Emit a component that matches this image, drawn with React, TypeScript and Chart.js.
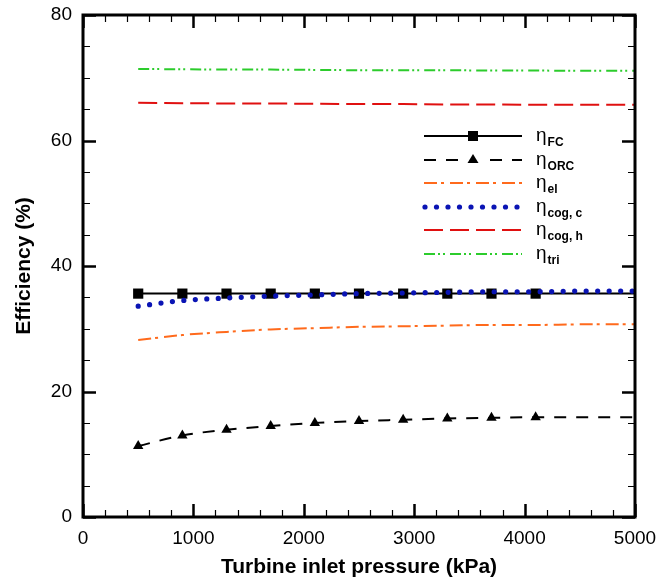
import React, { useEffect, useRef } from "react";
import { Chart, registerables } from "chart.js";

Chart.register(...registerables);

// ---------- data ----------
const markerX = [500, 900, 1300, 1700, 2100, 2500, 2900, 3300, 3700, 4100];
const lineX = [500, 900, 1300, 1700, 2100, 2500, 2900, 3300, 3700, 4100, 4500, 5000];

const etaFC = [35.6, 35.6, 35.6, 35.6, 35.6, 35.6, 35.6, 35.6, 35.6, 35.6, 35.6, 35.6];
const etaORC = [11.3, 13.0, 13.9, 14.5, 15.0, 15.3, 15.5, 15.7, 15.8, 15.9, 15.9, 15.9];
const etaEl = [28.2, 29.0, 29.5, 29.9, 30.1, 30.3, 30.4, 30.5, 30.6, 30.6, 30.7, 30.7];
const etaCogC = [33.6, 34.5, 34.9, 35.2, 35.4, 35.6, 35.7, 35.8, 35.9, 35.9, 36.0, 36.0];
const etaCogH = [66.0, 65.95, 65.9, 65.9, 65.85, 65.8, 65.8, 65.75, 65.75, 65.7, 65.7, 65.7];
const etaTri = [71.4, 71.35, 71.3, 71.3, 71.25, 71.2, 71.2, 71.2, 71.15, 71.15, 71.1, 71.1];

const xTickValues = [0, 1000, 2000, 3000, 4000, 5000];
const yTickValues = [0, 20, 40, 60, 80];
const xMinorStep = 200;
const yMinorStep = 5;

const legendSubs = ["FC", "ORC", "el", "cog, c", "cog, h", "tri"];

const ORANGE = "#ff6a1c";
const BLUE = "#0a14b4";
const RED = "#e01010";
const GREEN = "#2ccc2c";

const FONT = "'Liberation Sans', Arial, Helvetica, sans-serif";

const pts = (ys: number[]) => lineX.map((x, i) => ({ x, y: ys[i] }));
const markerRadius = (r: number) => (ctx: any) => (ctx.dataIndex < markerX.length ? r : 0);

const frameTicks = {
  id: "frameTicks",
  afterDraw(chart: any) {
    const { ctx, chartArea } = chart;
    const { left, right, top, bottom } = chartArea;
    const xs = chart.scales.x;
    const ys = chart.scales.y;
    ctx.save();
    ctx.strokeStyle = "#000";
    ctx.lineCap = "butt";
    const xMax = xTickValues[xTickValues.length - 1];
    for (let v = xTickValues[0]; v <= xMax; v += xMinorStep) {
      const major = xTickValues.includes(v);
      const px = Math.round(xs.getPixelForValue(v)) + 0.5;
      const len = major ? 13 : 7;
      ctx.lineWidth = major ? 2.5 : 1.2;
      ctx.beginPath();
      ctx.moveTo(px, bottom);
      ctx.lineTo(px, bottom - len);
      ctx.moveTo(px, top);
      ctx.lineTo(px, top + len);
      ctx.stroke();
    }
    const yMax = yTickValues[yTickValues.length - 1];
    for (let v = yTickValues[0]; v <= yMax; v += yMinorStep) {
      const major = yTickValues.includes(v);
      const py = Math.round(ys.getPixelForValue(v)) + 0.5;
      const len = major ? 13 : 7;
      ctx.lineWidth = major ? 2.5 : 1.2;
      ctx.beginPath();
      ctx.moveTo(left, py);
      ctx.lineTo(left + len, py);
      ctx.moveTo(right, py);
      ctx.lineTo(right - len, py);
      ctx.stroke();
    }
    ctx.lineWidth = 3;
    ctx.strokeRect(left, top, right - left, bottom - top);
    ctx.restore();
  },
};

const legendPlugin = {
  id: "customLegend",
  afterDraw(chart: any) {
    const { ctx } = chart;
    const x0 = 424;
    const x1 = 522;
    const rows = [136, 160, 183, 207, 230, 254];
    ctx.save();
    rows.forEach((ry: number, i: number) => {
      ctx.lineWidth = 2;
      ctx.lineCap = "butt";
      ctx.setLineDash([]);
      if (i === 0) {
        ctx.strokeStyle = "#000";
        ctx.beginPath();
        ctx.moveTo(x0, ry);
        ctx.lineTo(x1, ry);
        ctx.stroke();
        ctx.fillStyle = "#000";
        ctx.fillRect(473 - 5, ry - 5, 10, 10);
      } else if (i === 1) {
        ctx.strokeStyle = "#000";
        ctx.setLineDash([12, 10]);
        ctx.beginPath();
        ctx.moveTo(x0, ry);
        ctx.lineTo(x1, ry);
        ctx.stroke();
        ctx.setLineDash([]);
        ctx.fillStyle = "#fff";
        ctx.fillRect(466, ry - 6, 14, 12);
        ctx.fillStyle = "#000";
        ctx.beginPath();
        ctx.moveTo(473, ry - 6);
        ctx.lineTo(478.5, ry + 3);
        ctx.lineTo(467.5, ry + 3);
        ctx.closePath();
        ctx.fill();
      } else if (i === 2) {
        ctx.strokeStyle = ORANGE;
        ctx.setLineDash([13, 4, 3, 6]);
        ctx.beginPath();
        ctx.moveTo(x0, ry);
        ctx.lineTo(x1, ry);
        ctx.stroke();
      } else if (i === 3) {
        ctx.fillStyle = BLUE;
        for (let k = 0; k < 9; k++) {
          ctx.beginPath();
          ctx.arc(x0 + 1 + k * 11.5, ry, 2.6, 0, Math.PI * 2);
          ctx.fill();
        }
      } else if (i === 4) {
        ctx.strokeStyle = RED;
        ctx.setLineDash([19, 7]);
        ctx.beginPath();
        ctx.moveTo(x0, ry);
        ctx.lineTo(x1, ry);
        ctx.stroke();
      } else {
        ctx.strokeStyle = GREEN;
        ctx.setLineDash([11, 3, 2, 3, 2, 5]);
        ctx.beginPath();
        ctx.moveTo(x0, ry);
        ctx.lineTo(x1, ry);
        ctx.stroke();
      }
      ctx.setLineDash([]);
      ctx.fillStyle = "#000";
      ctx.textBaseline = "alphabetic";
      ctx.textAlign = "left";
      ctx.font = `19px ${FONT}`;
      ctx.fillText("η", 536, ry + 5);
      const w = ctx.measureText("η").width;
      ctx.font = `bold 12px ${FONT}`;
      ctx.fillText(legendSubs[i], 536 + w + 1, ry + 10);
    });
    ctx.restore();
  },
};

export default function App() {
  const ref = useRef<HTMLCanvasElement | null>(null);

  useEffect(() => {
    if (!ref.current) return;
    const chart = new Chart(ref.current, {
      type: "scatter",
      data: {
        datasets: [
          {
            label: "η cog, c",
            data: pts(etaCogC),
            showLine: true,
            borderColor: BLUE,
            borderWidth: 5.2,
            borderDash: [0, 11.5],
            borderCapStyle: "round",
            pointRadius: 0,
            cubicInterpolationMode: "monotone",
            order: 0,
          },
          {
            label: "η FC",
            data: pts(etaFC),
            showLine: true,
            borderColor: "#000",
            borderWidth: 2,
            pointStyle: "rect",
            pointRadius: markerRadius(7.2),
            pointBackgroundColor: "#000",
            pointBorderWidth: 0,
            order: 1,
          },
          {
            label: "η ORC",
            data: pts(etaORC),
            showLine: true,
            borderColor: "#000",
            borderWidth: 2,
            borderDash: [12, 10],
            pointStyle: "triangle",
            pointRadius: markerRadius(6),
            pointBackgroundColor: "#000",
            pointBorderWidth: 0,
            cubicInterpolationMode: "monotone",
            order: 2,
          },
          {
            label: "η el",
            data: pts(etaEl),
            showLine: true,
            borderColor: ORANGE,
            borderWidth: 2,
            borderDash: [13, 4, 3, 6],
            pointRadius: 0,
            cubicInterpolationMode: "monotone",
            order: 3,
          },
          {
            label: "η cog, h",
            data: pts(etaCogH),
            showLine: true,
            borderColor: RED,
            borderWidth: 2,
            borderDash: [19, 7],
            pointRadius: 0,
            order: 4,
          },
          {
            label: "η tri",
            data: pts(etaTri),
            showLine: true,
            borderColor: GREEN,
            borderWidth: 2,
            borderDash: [11, 3, 2, 3, 2, 5],
            pointRadius: 0,
            order: 5,
          },
        ],
      },
      options: {
        animation: false,
        responsive: true,
        maintainAspectRatio: false,
        layout: { padding: { top: 15, right: 23, left: 12, bottom: 4 } },
        plugins: {
          legend: { display: false },
          tooltip: { enabled: false },
        },
        scales: {
          x: {
            type: "linear",
            min: 0,
            max: 5000,
            afterFit: (s: any) => {
              s.height = 63;
              s.paddingLeft = 0;
              s.paddingRight = 0;
            },
            afterBuildTicks: (s: any) => {
              s.ticks = xTickValues.map((v) => ({ value: v }));
            },
            grid: { display: false, drawTicks: false },
            border: { display: false },
            ticks: {
              color: "#000",
              font: { family: FONT, size: 19 },
              padding: 10,
              maxRotation: 0,
              callback: (v: any) => String(v),
            },
            title: {
              display: true,
              text: "Turbine inlet pressure (kPa)",
              color: "#000",
              font: { family: FONT, size: 21, weight: "bold" },
              padding: { top: 0, bottom: 0 },
            },
          },
          y: {
            type: "linear",
            min: 0,
            max: 80,
            afterFit: (s: any) => {
              s.width = 71;
              s.paddingTop = 0;
              s.paddingBottom = 0;
            },
            afterBuildTicks: (s: any) => {
              s.ticks = yTickValues.map((v) => ({ value: v }));
            },
            grid: { display: false, drawTicks: false },
            border: { display: false },
            ticks: {
              color: "#000",
              font: { family: FONT, size: 19 },
              padding: 11,
              callback: (v: any) => String(v),
            },
            title: {
              display: true,
              text: "Efficiency (%)",
              color: "#000",
              font: { family: FONT, size: 21, weight: "bold" },
              padding: { top: 0, bottom: 0 },
            },
          },
        },
      },
      plugins: [frameTicks, legendPlugin],
    });
    return () => chart.destroy();
  }, []);

  return (
    <div style={{ position: "fixed", left: 0, top: 0, width: 658, height: 584, background: "#fff" }}>
      <canvas ref={ref} />
    </div>
  );
}
